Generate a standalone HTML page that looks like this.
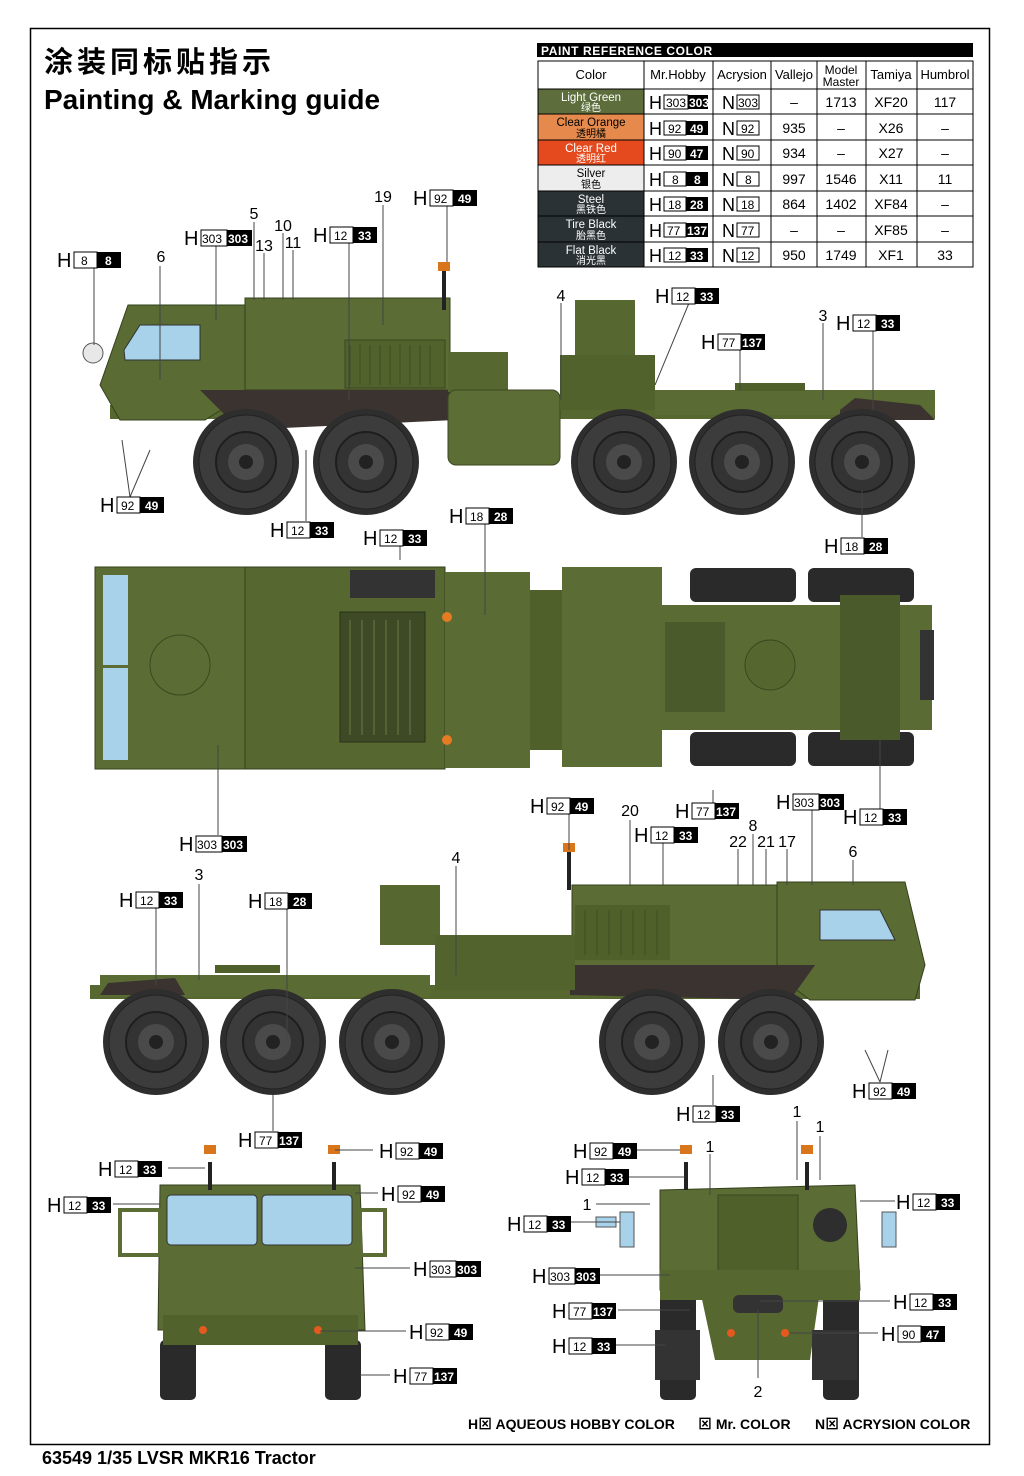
<!DOCTYPE html>
<html><head><meta charset="utf-8"><style>
html,body{margin:0;padding:0;background:#fff}
svg{display:block}
text{font-family:"Liberation Sans","Noto Sans CJK SC",sans-serif}
.h{font-size:20px}
.nw{font-size:12px}
.nb{font-size:12px;font-weight:bold;fill:#fff}
.num{font-size:16px}
.t{font-size:13px}
</style></head><body>
<svg width="1024" height="1476" viewBox="0 0 1024 1476" xmlns="http://www.w3.org/2000/svg">
<defs>
<g id="wh"><circle r="53" fill="#2e2e2e"/><circle r="47" fill="#3c3c3c" stroke="#222"/><circle r="30" fill="#333" stroke="#1e1e1e" stroke-width="2"/><circle r="18" fill="#4a4a4a"/><circle r="7" fill="#222"/></g>
<g id="L"><rect x="17" y="1" width="23" height="16" fill="#fff" stroke="#000"/><rect x="40" y="1" width="24" height="16" fill="#000"/></g>
<g id="L3"><rect x="17" y="1" width="26" height="16" fill="#fff" stroke="#000"/><rect x="43" y="1" width="25" height="16" fill="#000"/></g>
</defs>
<rect x="30.5" y="28.5" width="959" height="1416" fill="none" stroke="#000" stroke-width="1.5"/>
<text x="44" y="72" font-size="29" font-weight="bold" font-family="'Noto Sans CJK SC',sans-serif" letter-spacing="4">涂装同标贴指示</text>
<text x="44" y="109" font-size="28" font-weight="bold">Painting &amp; Marking guide</text>

<!-- table -->
<rect x="537" y="43" width="436" height="14" fill="#000"/>
<text x="541" y="55" font-size="12" font-weight="bold" fill="#fff" letter-spacing="0.6">PAINT  REFERENCE COLOR</text>
<g stroke="#000" stroke-width="1">
<rect x="538" y="61" width="435" height="206" fill="#fff"/>
<rect x="538" y="89" width="106" height="25" fill="#5d6e3c"/>
<rect x="538" y="114" width="106" height="26" fill="#e58a4c"/>
<rect x="538" y="140" width="106" height="25" fill="#e44a1e"/>
<rect x="538" y="165" width="106" height="26" fill="#ededed"/>
<rect x="538" y="191" width="106" height="25" fill="#2b3236"/>
<rect x="538" y="216" width="106" height="26" fill="#2b3236"/>
<rect x="538" y="242" width="106" height="25" fill="#2b3236"/>
<path d="M538 89H973M538 114H973M538 140H973M538 165H973M538 191H973M538 216H973M538 242H973M644 61V267M713 61V267M771 61V267M817 61V267M866 61V267M917 61V267"/>
</g>
<g class="t" text-anchor="middle">
<text x="591" y="79">Color</text><text x="678" y="79">Mr.Hobby</text><text x="742" y="79">Acrysion</text><text x="794" y="79">Vallejo</text><text x="841" y="74" font-size="12">Model</text><text x="841" y="86" font-size="12">Master</text><text x="891" y="79">Tamiya</text><text x="945" y="79">Humbrol</text>
</g>
<g font-size="11.5" text-anchor="middle">
<text x="591" y="101" fill="#fff">Light Green</text><text x="591" y="111" fill="#fff" font-size="10">绿色</text>
<text x="591" y="126">Clear Orange</text><text x="591" y="137" font-size="10">透明橘</text>
<text x="591" y="152" fill="#fff">Clear Red</text><text x="591" y="162" fill="#fff" font-size="10">透明红</text>
<text x="591" y="177">Silver</text><text x="591" y="188" font-size="10">银色</text>
<text x="591" y="203" fill="#fff">Steel</text><text x="591" y="213" fill="#fff" font-size="10">黑铁色</text>
<text x="591" y="228" fill="#fff">Tire Black</text><text x="591" y="239" fill="#fff" font-size="10">胎黑色</text>
<text x="591" y="254" fill="#fff">Flat Black</text><text x="591" y="264" fill="#fff" font-size="10">消光黑</text>
</g>
<g font-size="14" text-anchor="middle">
<text x="794" y="107">–</text><text x="841" y="107">1713</text><text x="891" y="107">XF20</text><text x="945" y="107">117</text>
<text x="794" y="133">935</text><text x="841" y="133">–</text><text x="891" y="133">X26</text><text x="945" y="133">–</text>
<text x="794" y="158">934</text><text x="841" y="158">–</text><text x="891" y="158">X27</text><text x="945" y="158">–</text>
<text x="794" y="184">997</text><text x="841" y="184">1546</text><text x="891" y="184">X11</text><text x="945" y="184">11</text>
<text x="794" y="209">864</text><text x="841" y="209">1402</text><text x="891" y="209">XF84</text><text x="945" y="209">–</text>
<text x="794" y="235">–</text><text x="841" y="235">–</text><text x="891" y="235">XF85</text><text x="945" y="235">–</text>
<text x="794" y="260">950</text><text x="841" y="260">1749</text><text x="891" y="260">XF1</text><text x="945" y="260">33</text>
</g>
<g font-size="12">
<g transform="translate(649,94)"><text y="15" font-size="18">H</text><rect x="15" y="1" width="24" height="14" fill="#fff" stroke="#000"/><rect x="39" y="1" width="20" height="14" fill="#000"/><text x="17" y="13">303</text><text x="40" y="13" fill="#fff" font-weight="bold">303</text></g>
<g transform="translate(649,120)"><text y="15" font-size="18">H</text><rect x="15" y="1" width="22" height="14" fill="#fff" stroke="#000"/><rect x="37" y="1" width="22" height="14" fill="#000"/><text x="19" y="13">92</text><text x="41" y="13" fill="#fff" font-weight="bold">49</text></g>
<g transform="translate(649,145)"><text y="15" font-size="18">H</text><rect x="15" y="1" width="22" height="14" fill="#fff" stroke="#000"/><rect x="37" y="1" width="22" height="14" fill="#000"/><text x="19" y="13">90</text><text x="41" y="13" fill="#fff" font-weight="bold">47</text></g>
<g transform="translate(649,171)"><text y="15" font-size="18">H</text><rect x="15" y="1" width="22" height="14" fill="#fff" stroke="#000"/><rect x="37" y="1" width="22" height="14" fill="#000"/><text x="23" y="13">8</text><text x="45" y="13" fill="#fff" font-weight="bold">8</text></g>
<g transform="translate(649,196)"><text y="15" font-size="18">H</text><rect x="15" y="1" width="22" height="14" fill="#fff" stroke="#000"/><rect x="37" y="1" width="22" height="14" fill="#000"/><text x="19" y="13">18</text><text x="41" y="13" fill="#fff" font-weight="bold">28</text></g>
<g transform="translate(649,222)"><text y="15" font-size="18">H</text><rect x="15" y="1" width="22" height="14" fill="#fff" stroke="#000"/><rect x="37" y="1" width="22" height="14" fill="#000"/><text x="18" y="13">77</text><text x="38" y="13" fill="#fff" font-weight="bold">137</text></g>
<g transform="translate(649,247)"><text y="15" font-size="18">H</text><rect x="15" y="1" width="22" height="14" fill="#fff" stroke="#000"/><rect x="37" y="1" width="22" height="14" fill="#000"/><text x="19" y="13">12</text><text x="41" y="13" fill="#fff" font-weight="bold">33</text></g>
<g font-size="18"><text x="722" y="109">N</text><text x="722" y="135">N</text><text x="722" y="160">N</text><text x="722" y="186">N</text><text x="722" y="211">N</text><text x="722" y="237">N</text><text x="722" y="262">N</text></g>
<g fill="#fff" stroke="#000"><rect x="737" y="95" width="22" height="14"/><rect x="737" y="121" width="22" height="14"/><rect x="737" y="146" width="22" height="14"/><rect x="737" y="172" width="22" height="14"/><rect x="737" y="197" width="22" height="14"/><rect x="737" y="223" width="22" height="14"/><rect x="737" y="248" width="22" height="14"/></g>
<text x="738" y="107">303</text><text x="741" y="133">92</text><text x="741" y="158">90</text><text x="745" y="184">8</text><text x="741" y="209">18</text><text x="741" y="235">77</text><text x="741" y="260">12</text>
</g>

<!-- ===== SIDE VIEW 1 ===== -->
<g>
<rect x="110" y="405" width="825" height="14" fill="#56672f"/>
<path d="M100 385 L128 305 L245 305 L245 395 L205 420 L120 420 Z" fill="#5a6b33" stroke="#34401c"/>
<path d="M124 350 L140 325 L200 325 L200 360 L125 360Z" fill="#a7d2ea" stroke="#333"/>
<rect x="245" y="298" width="205" height="92" fill="#5b6c34" stroke="#34401c"/>
<rect x="345" y="340" width="100" height="48" fill="#51622c" stroke="#3b4721"/>
<path d="M350 345V385M360 345V385M370 345V385M380 345V385M390 345V385M400 345V385M410 345V385M420 345V385M430 345V385" stroke="#3e4c22"/>
<path d="M200 390 L455 390 L455 420 L240 430 Z" fill="#3b3330"/>
<rect x="448" y="352" width="60" height="40" fill="#56672f"/>
<rect x="448" y="390" width="112" height="75" rx="8" fill="#5c6d36" stroke="#3b4721"/>
<rect x="575" y="300" width="60" height="55" fill="#56672f"/>
<rect x="560" y="355" width="95" height="55" fill="#51622c"/>
<rect x="655" y="390" width="280" height="25" fill="#5a6b33"/>
<rect x="735" y="383" width="70" height="8" fill="#4f602b"/>
<path d="M840 410 L855 398 L920 405 L935 420 L840 420Z" fill="#3b3330"/>
<circle cx="93" cy="353" r="10" fill="#e8e8e8" stroke="#555"/>
<rect x="442" y="270" width="4" height="40" fill="#222"/><rect x="438" y="262" width="12" height="9" fill="#d9761c"/>
<use href="#wh" x="246" y="462"/><use href="#wh" x="366" y="462"/><use href="#wh" x="624" y="462"/><use href="#wh" x="742" y="462"/><use href="#wh" x="862" y="462"/>
</g>

<!-- ===== TOP VIEW ===== -->
<g>
<rect x="690" y="568" width="106" height="34" rx="6" fill="#2a2a2a"/><rect x="808" y="568" width="106" height="34" rx="6" fill="#2a2a2a"/>
<rect x="690" y="732" width="106" height="34" rx="6" fill="#2a2a2a"/><rect x="808" y="732" width="106" height="34" rx="6" fill="#2a2a2a"/>
<rect x="95" y="567" width="150" height="202" fill="#5b6c34" stroke="#34401c"/>
<rect x="103" y="575" width="25" height="90" fill="#a7d2ea"/><rect x="103" y="668" width="25" height="92" fill="#a7d2ea"/>
<circle cx="180" cy="665" r="30" fill="none" stroke="#3b4721"/>
<rect x="245" y="567" width="200" height="202" fill="#56672f" stroke="#34401c"/>
<rect x="340" y="612" width="85" height="130" fill="#3e4a25" stroke="#2a3219"/>
<path d="M350 620V735M362 620V735M374 620V735M386 620V735M398 620V735M410 620V735" stroke="#6a7a45"/>
<rect x="350" y="570" width="85" height="28" fill="#333"/>
<rect x="445" y="572" width="85" height="196" fill="#5a6b33"/>
<circle cx="447" cy="617" r="5" fill="#e57b22"/><circle cx="447" cy="740" r="5" fill="#e57b22"/>
<rect x="530" y="590" width="35" height="160" fill="#4f602b"/>
<rect x="562" y="567" width="100" height="200" fill="#5b6c34"/>
<rect x="662" y="605" width="270" height="125" fill="#5a6b33"/>
<rect x="665" y="622" width="60" height="90" fill="#4a5a2b"/>
<circle cx="770" cy="665" r="25" fill="#55662f" stroke="#3b4721"/>
<rect x="840" y="595" width="60" height="145" fill="#4a5a2b"/>
<rect x="920" y="630" width="14" height="70" fill="#333"/>
</g>

<!-- ===== SIDE VIEW 2 ===== -->
<g>
<rect x="90" y="985" width="830" height="14" fill="#56672f"/>
<path d="M925 965 L905 882 L777 882 L777 975 L810 1000 L915 1000Z" fill="#5a6b33" stroke="#34401c"/>
<path d="M820 910 L880 910 L895 940 L820 940Z" fill="#a7d2ea" stroke="#333"/>
<rect x="572" y="885" width="205" height="82" fill="#5b6c34" stroke="#34401c"/>
<rect x="575" y="905" width="95" height="55" fill="#4f602b"/>
<path d="M585 910V955M597 910V955M609 910V955M621 910V955M633 910V955M645 910V955M657 910V955" stroke="#3e4c22"/>
<path d="M570 965 L815 965 L790 1000 L570 995Z" fill="#3b3330"/>
<rect x="380" y="885" width="60" height="60" fill="#56672f"/>
<rect x="435" y="935" width="140" height="55" fill="#52632d"/>
<rect x="100" y="975" width="330" height="22" fill="#5a6b33"/>
<rect x="215" y="965" width="65" height="8" fill="#4f602b"/>
<path d="M100 995 L108 983 L175 978 L185 995Z" fill="#3b3330"/>
<rect x="567" y="850" width="4" height="40" fill="#222"/><rect x="563" y="843" width="12" height="9" fill="#d9761c"/>
<use href="#wh" x="156" y="1042"/><use href="#wh" x="273" y="1042"/><use href="#wh" x="392" y="1042"/><use href="#wh" x="652" y="1042"/><use href="#wh" x="771" y="1042"/>
</g>

<!-- ===== FRONT VIEW ===== -->
<g>
<rect x="160" y="1340" width="36" height="60" rx="5" fill="#2a2a2a"/><rect x="325" y="1340" width="36" height="60" rx="5" fill="#2a2a2a"/>
<path d="M160 1185 L360 1185 L365 1330 L158 1330Z" fill="#5b6c34" stroke="#34401c"/>
<rect x="167" y="1195" width="90" height="50" rx="4" fill="#a7d2ea" stroke="#333"/><rect x="262" y="1195" width="90" height="50" rx="4" fill="#a7d2ea" stroke="#333"/>
<rect x="163" y="1315" width="195" height="30" fill="#51622c"/>
<rect x="120" y="1210" width="40" height="45" fill="none" stroke="#5b6c34" stroke-width="4"/><rect x="360" y="1210" width="25" height="45" fill="none" stroke="#5b6c34" stroke-width="4"/>
<rect x="208" y="1162" width="4" height="28" fill="#222"/><rect x="204" y="1145" width="12" height="9" fill="#d9761c"/>
<rect x="332" y="1162" width="4" height="28" fill="#222"/><rect x="328" y="1145" width="12" height="9" fill="#d9761c"/>
<circle cx="203" cy="1330" r="4" fill="#e45a1e"/><circle cx="318" cy="1330" r="4" fill="#e45a1e"/>
</g>

<!-- ===== REAR VIEW ===== -->
<g>
<rect x="660" y="1290" width="36" height="110" rx="5" fill="#2a2a2a"/><rect x="823" y="1290" width="36" height="110" rx="5" fill="#2a2a2a"/>
<path d="M660 1190 L855 1185 L860 1290 L660 1290Z" fill="#5b6c34" stroke="#34401c"/>
<rect x="718" y="1195" width="80" height="100" fill="#4f602b" stroke="#3b4721"/>
<rect x="660" y="1270" width="200" height="30" fill="#56672f"/>
<path d="M700 1290 L820 1290 L810 1360 L715 1360Z" fill="#56672f"/>
<rect x="655" y="1330" width="45" height="50" fill="#333"/><rect x="812" y="1330" width="45" height="50" fill="#333"/>
<rect x="733" y="1295" width="50" height="18" rx="6" fill="#333"/>
<circle cx="830" cy="1225" r="17" fill="#2e2e2e"/>
<rect x="620" y="1212" width="14" height="35" fill="#a7d2ea" stroke="#555"/><rect x="882" y="1212" width="14" height="35" fill="#a7d2ea" stroke="#555"/>
<rect x="596" y="1217" width="20" height="10" fill="#a7d2ea" stroke="#555"/>
<rect x="684" y="1162" width="4" height="28" fill="#222"/><rect x="680" y="1145" width="12" height="9" fill="#d9761c"/>
<rect x="805" y="1162" width="4" height="28" fill="#222"/><rect x="801" y="1145" width="12" height="9" fill="#d9761c"/>
<circle cx="731" cy="1333" r="4" fill="#e45a1e"/><circle cx="785" cy="1333" r="4" fill="#e45a1e"/>
</g>

<!-- leader lines -->
<g stroke="#444" stroke-width="1" fill="none">
<path d="M94 268V345M216 246V320M349 243V400M447 206V262M689 303L655 385M740 350V390M873 331V410M130 497L122 440M130 497L150 450M306 521V450M400 546V560M485 524V615M862 537V490M218 835V745M569 814V850M713 818V790M812 810V885M663 842V885M880 824V740M156 908V985M287 909V1040M713 1105V1075M273 1131V1095M880 1082L865 1050M880 1082L888 1050M168 1168H205M113 1204H160M373 1150H335M378 1193H355M410 1268H355M406 1331H320M390 1375H360M637 1150H680M628 1177H685M570 1222H620M895 1201H860M597 1275H670M618 1310H690M610 1345H665M890 1301H760M878 1333H790M758 1378V1310M254 222V300M264 253V300M283 233V300M293 250V300M160 266V380M383 205V325M561 303V400M823 323V400M630 820V885M753 834V885M738 849V885M766 849V885M787 849V885M853 860V885M456 866V975M199 884V980M797 1121V1180M820 1136V1180M710 1154V1195M596 1204H650"/>
</g>

<g class="num" text-anchor="middle">
<text x="254" y="219">5</text><text x="283" y="231">10</text><text x="264" y="251">13</text><text x="293" y="248">11</text><text x="161" y="262">6</text><text x="383" y="202">19</text><text x="561" y="301">4</text><text x="823" y="321">3</text>
<text x="630" y="816">20</text><text x="753" y="831">8</text><text x="738" y="847">22</text><text x="766" y="847">21</text><text x="787" y="847">17</text><text x="853" y="857">6</text><text x="456" y="863">4</text><text x="199" y="880">3</text>
<text x="797" y="1117">1</text><text x="820" y="1132">1</text><text x="710" y="1152">1</text><text x="587" y="1210">1</text><text x="758" y="1397">2</text>
</g>

<g class="h">
<g transform="translate(57,251)"><text y="16">H</text><use href="#L"/><text class="nw" x="24" y="14">8</text><text class="nb" x="48" y="14">8</text></g>
<g transform="translate(184,229)"><text y="16">H</text><use href="#L3"/><text class="nw" x="18" y="14">303</text><text class="nb" x="44" y="14">303</text></g>
<g transform="translate(313,226)"><text y="16">H</text><use href="#L"/><text class="nw" x="21" y="14">12</text><text class="nb" x="45" y="14">33</text></g>
<g transform="translate(413,189)"><text y="16">H</text><use href="#L"/><text class="nw" x="21" y="14">92</text><text class="nb" x="45" y="14">49</text></g>
<g transform="translate(655,287)"><text y="16">H</text><use href="#L"/><text class="nw" x="21" y="14">12</text><text class="nb" x="45" y="14">33</text></g>
<g transform="translate(701,333)"><text y="16">H</text><use href="#L"/><text class="nw" x="21" y="14">77</text><text class="nb" x="41" y="14">137</text></g>
<g transform="translate(836,314)"><text y="16">H</text><use href="#L"/><text class="nw" x="21" y="14">12</text><text class="nb" x="45" y="14">33</text></g>
<g transform="translate(100,496)"><text y="16">H</text><use href="#L"/><text class="nw" x="21" y="14">92</text><text class="nb" x="45" y="14">49</text></g>
<g transform="translate(270,521)"><text y="16">H</text><use href="#L"/><text class="nw" x="21" y="14">12</text><text class="nb" x="45" y="14">33</text></g>
<g transform="translate(363,529)"><text y="16">H</text><use href="#L"/><text class="nw" x="21" y="14">12</text><text class="nb" x="45" y="14">33</text></g>
<g transform="translate(449,507)"><text y="16">H</text><use href="#L"/><text class="nw" x="21" y="14">18</text><text class="nb" x="45" y="14">28</text></g>
<g transform="translate(824,537)"><text y="16">H</text><use href="#L"/><text class="nw" x="21" y="14">18</text><text class="nb" x="45" y="14">28</text></g>
<g transform="translate(179,835)"><text y="16">H</text><use href="#L3"/><text class="nw" x="18" y="14">303</text><text class="nb" x="44" y="14">303</text></g>
<g transform="translate(530,797)"><text y="16">H</text><use href="#L"/><text class="nw" x="21" y="14">92</text><text class="nb" x="45" y="14">49</text></g>
<g transform="translate(675,802)"><text y="16">H</text><use href="#L"/><text class="nw" x="21" y="14">77</text><text class="nb" x="41" y="14">137</text></g>
<g transform="translate(776,793)"><text y="16">H</text><use href="#L3"/><text class="nw" x="18" y="14">303</text><text class="nb" x="44" y="14">303</text></g>
<g transform="translate(634,826)"><text y="16">H</text><use href="#L"/><text class="nw" x="21" y="14">12</text><text class="nb" x="45" y="14">33</text></g>
<g transform="translate(843,808)"><text y="16">H</text><use href="#L"/><text class="nw" x="21" y="14">12</text><text class="nb" x="45" y="14">33</text></g>
<g transform="translate(119,891)"><text y="16">H</text><use href="#L"/><text class="nw" x="21" y="14">12</text><text class="nb" x="45" y="14">33</text></g>
<g transform="translate(248,892)"><text y="16">H</text><use href="#L"/><text class="nw" x="21" y="14">18</text><text class="nb" x="45" y="14">28</text></g>
<g transform="translate(852,1082)"><text y="16">H</text><use href="#L"/><text class="nw" x="21" y="14">92</text><text class="nb" x="45" y="14">49</text></g>
<g transform="translate(676,1105)"><text y="16">H</text><use href="#L"/><text class="nw" x="21" y="14">12</text><text class="nb" x="45" y="14">33</text></g>
<g transform="translate(238,1131)"><text y="16">H</text><use href="#L"/><text class="nw" x="21" y="14">77</text><text class="nb" x="41" y="14">137</text></g>
<g transform="translate(98,1160)"><text y="16">H</text><use href="#L"/><text class="nw" x="21" y="14">12</text><text class="nb" x="45" y="14">33</text></g>
<g transform="translate(379,1142)"><text y="16">H</text><use href="#L"/><text class="nw" x="21" y="14">92</text><text class="nb" x="45" y="14">49</text></g>
<g transform="translate(47,1196)"><text y="16">H</text><use href="#L"/><text class="nw" x="21" y="14">12</text><text class="nb" x="45" y="14">33</text></g>
<g transform="translate(381,1185)"><text y="16">H</text><use href="#L"/><text class="nw" x="21" y="14">92</text><text class="nb" x="45" y="14">49</text></g>
<g transform="translate(413,1260)"><text y="16">H</text><use href="#L3"/><text class="nw" x="18" y="14">303</text><text class="nb" x="44" y="14">303</text></g>
<g transform="translate(409,1323)"><text y="16">H</text><use href="#L"/><text class="nw" x="21" y="14">92</text><text class="nb" x="45" y="14">49</text></g>
<g transform="translate(393,1367)"><text y="16">H</text><use href="#L"/><text class="nw" x="21" y="14">77</text><text class="nb" x="41" y="14">137</text></g>
<g transform="translate(573,1142)"><text y="16">H</text><use href="#L"/><text class="nw" x="21" y="14">92</text><text class="nb" x="45" y="14">49</text></g>
<g transform="translate(565,1168)"><text y="16">H</text><use href="#L"/><text class="nw" x="21" y="14">12</text><text class="nb" x="45" y="14">33</text></g>
<g transform="translate(507,1215)"><text y="16">H</text><use href="#L"/><text class="nw" x="21" y="14">12</text><text class="nb" x="45" y="14">33</text></g>
<g transform="translate(896,1193)"><text y="16">H</text><use href="#L"/><text class="nw" x="21" y="14">12</text><text class="nb" x="45" y="14">33</text></g>
<g transform="translate(532,1267)"><text y="16">H</text><use href="#L3"/><text class="nw" x="18" y="14">303</text><text class="nb" x="44" y="14">303</text></g>
<g transform="translate(552,1302)"><text y="16">H</text><use href="#L"/><text class="nw" x="21" y="14">77</text><text class="nb" x="41" y="14">137</text></g>
<g transform="translate(893,1293)"><text y="16">H</text><use href="#L"/><text class="nw" x="21" y="14">12</text><text class="nb" x="45" y="14">33</text></g>
<g transform="translate(881,1325)"><text y="16">H</text><use href="#L"/><text class="nw" x="21" y="14">90</text><text class="nb" x="45" y="14">47</text></g>
<g transform="translate(552,1337)"><text y="16">H</text><use href="#L"/><text class="nw" x="21" y="14">12</text><text class="nb" x="45" y="14">33</text></g>
</g>

<g font-size="14" font-weight="bold">
<text x="468" y="1429">H⊠ AQUEOUS HOBBY COLOR</text>
<text x="698" y="1429">⊠  Mr. COLOR</text>
<text x="815" y="1429">N⊠  ACRYSION COLOR</text>
</g>
<text x="42" y="1464" font-size="18" font-weight="bold">63549 1/35 LVSR MKR16 Tractor</text>
</svg>
</body></html>
